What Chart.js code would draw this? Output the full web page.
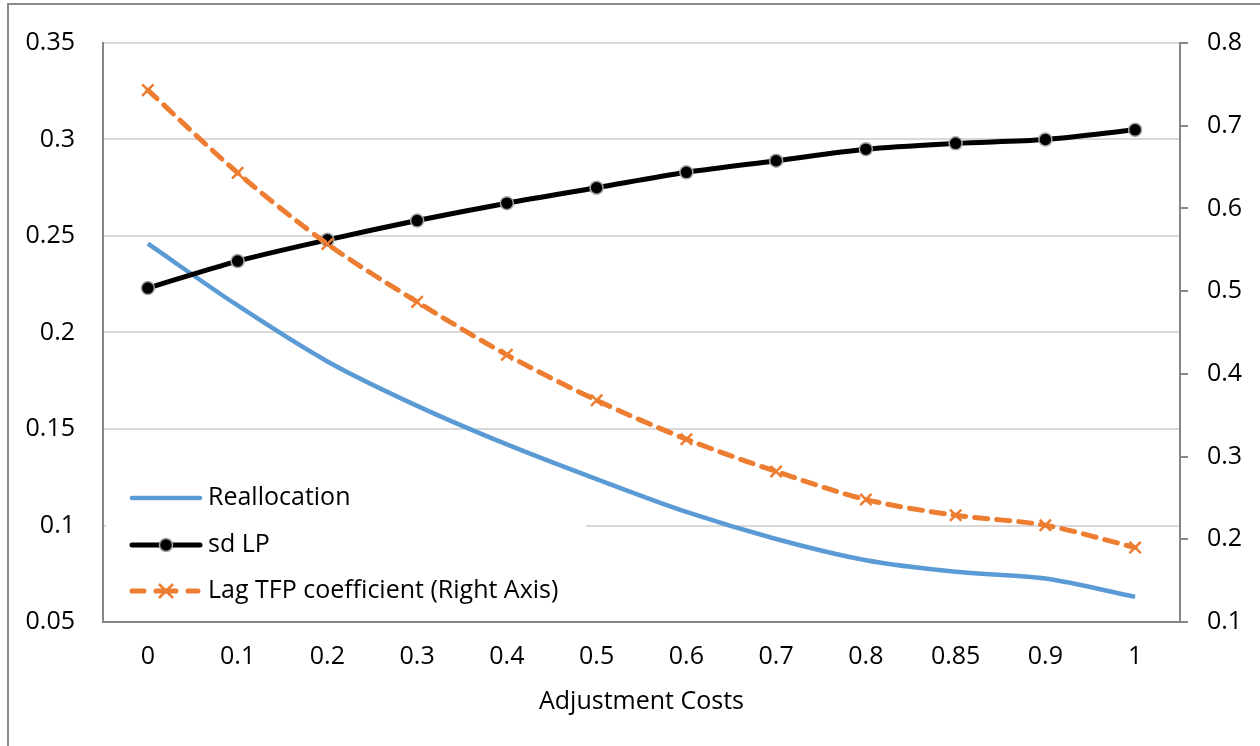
<!DOCTYPE html>
<html>
<head>
<meta charset="utf-8">
<script src="https://cdn.jsdelivr.net/npm/chart.js@4.4.1/dist/chart.umd.min.js"></script>
<style>
  html, body { margin: 0; padding: 0; background: #fff; }
  #wrap { width: 1260px; height: 746px; position: relative; }
</style>
</head>
<body>
<div id="wrap"><canvas id="grafico" width="1260" height="746"></canvas></div>
<script>
const custos = ["0", "0.1", "0.2", "0.3", "0.4", "0.5", "0.6", "0.7", "0.8", "0.85", "0.9", "1"];
const realocacao = [0.246, 0.214, 0.185, 0.162, 0.142, 0.124, 0.107, 0.093, 0.082, 0.076, 0.0725, 0.063];
const sdLP = [0.223, 0.237, 0.248, 0.258, 0.267, 0.275, 0.283, 0.289, 0.295, 0.298, 0.300, 0.305];
const lagTFP = [0.743, 0.643, 0.557, 0.487, 0.423, 0.368, 0.321, 0.282, 0.248, 0.229, 0.217, 0.190];

const fonte = "'Open Sans', Lato, sans-serif";
const tamanho = 25;
const azul = "#5b9bd5";
const laranja = "#ed7d31";
const cinza = "#868686";

// tira zeros do fim (0.30 -> 0.3)
function formatar(v) {
  return String(parseFloat(v.toFixed(2)));
}

// moldura e legenda desenhadas a mao
const pluginMoldura = {
  id: "moldura",
  beforeDraw(chart) {
    const ctx = chart.ctx;
    ctx.save();
    ctx.fillStyle = "#fff";
    ctx.fillRect(0, 0, chart.width, chart.height);
    ctx.strokeStyle = "#8c8c8c";
    ctx.lineWidth = 2;
    ctx.beginPath();
    ctx.moveTo(8, chart.height);
    ctx.lineTo(8, 4);
    ctx.lineTo(chart.width, 4);
    ctx.stroke();
    ctx.restore();
  },
  beforeDatasetsDraw(chart) {
    const ctx = chart.ctx;
    ctx.save();
    ctx.fillStyle = "#fff";
    ctx.fillRect(106, 478, 480, 136);

    const linhas = [
      { texto: "Reallocation", y: 498 },
      { texto: "sd LP", y: 545 },
      { texto: "Lag TFP coefficient (Right Axis)", y: 591 },
    ];
    ctx.lineCap = "round";

    // Reallocation
    ctx.strokeStyle = azul;
    ctx.lineWidth = 4.5;
    ctx.beginPath();
    ctx.moveTo(132, linhas[0].y);
    ctx.lineTo(200, linhas[0].y);
    ctx.stroke();

    // sd LP
    ctx.strokeStyle = "#000";
    ctx.lineWidth = 5;
    ctx.beginPath();
    ctx.moveTo(132, linhas[1].y);
    ctx.lineTo(200, linhas[1].y);
    ctx.stroke();
    ctx.beginPath();
    ctx.arc(166, linhas[1].y, 6.5, 0, Math.PI * 2);
    ctx.fillStyle = "#000";
    ctx.fill();
    ctx.strokeStyle = "#a6a6a6";
    ctx.lineWidth = 1.5;
    ctx.stroke();

    // Lag TFP
    ctx.strokeStyle = laranja;
    ctx.lineWidth = 5;
    ctx.beginPath();
    ctx.moveTo(132, linhas[2].y);
    ctx.lineTo(144, linhas[2].y);
    ctx.moveTo(156, linhas[2].y);
    ctx.lineTo(176, linhas[2].y);
    ctx.moveTo(188, linhas[2].y);
    ctx.lineTo(198, linhas[2].y);
    ctx.stroke();
    ctx.lineWidth = 2.5;
    ctx.lineCap = "butt";
    ctx.beginPath();
    ctx.moveTo(159, linhas[2].y - 7);
    ctx.lineTo(173, linhas[2].y + 7);
    ctx.moveTo(173, linhas[2].y - 7);
    ctx.lineTo(159, linhas[2].y + 7);
    ctx.stroke();

    ctx.fillStyle = "#000";
    ctx.font = tamanho + "px " + fonte;
    ctx.textBaseline = "middle";
    ctx.textAlign = "left";
    linhas.forEach((l) => ctx.fillText(l.texto, 208, l.y));
    ctx.restore();
  },
};

new Chart(document.getElementById("grafico"), {
  type: "line",
  data: {
    labels: custos,
    datasets: [
      {
        label: "Reallocation",
        data: realocacao,
        yAxisID: "y",
        borderColor: azul,
        borderWidth: 4.5,
        pointRadius: 0,
        tension: 0.3,
        order: 2,
      },
      {
        label: "sd LP",
        data: sdLP,
        yAxisID: "y",
        borderColor: "#000",
        borderWidth: 5,
        pointRadius: 6.5,
        pointBackgroundColor: "#000",
        pointBorderColor: "#a6a6a6",
        pointBorderWidth: 1.5,
        tension: 0.3,
        order: 1,
      },
      {
        label: "Lag TFP coefficient (Right Axis)",
        data: lagTFP,
        yAxisID: "y1",
        borderColor: laranja,
        borderWidth: 5,
        borderDash: [13, 9],
        borderCapStyle: "round",
        pointStyle: "crossRot",
        pointRadius: 8,
        pointBorderColor: laranja,
        pointBorderWidth: 2.5,
        tension: 0.3,
        order: 0,
      },
    ],
  },
  options: {
    responsive: false,
    animation: false,
    layout: { padding: { top: 37, left: 0, right: 0, bottom: 0 } },
    plugins: {
      legend: { display: false },
      tooltip: { enabled: false },
    },
    scales: {
      x: {
        offset: true,
        grid: { display: false, drawTicks: false },
        border: { display: true, color: cinza, width: 2 },
        ticks: {
          padding: 20,
          color: "#000",
          font: { family: fonte, size: tamanho },
          maxRotation: 0,
        },
        title: {
          display: true,
          text: "Adjustment Costs",
          color: "#000",
          font: { family: fonte, size: tamanho },
          padding: { top: 8, bottom: 29 },
        },
        afterFit(scale) {
          scale.height = 124;
        },
      },
      y: {
        position: "left",
        min: 0.05,
        max: 0.35,
        ticks: {
          stepSize: 0.05,
          padding: 28,
          color: "#000",
          font: { family: fonte, size: tamanho },
          callback: (v) => formatar(v),
        },
        grid: { color: "#d9d9d9", lineWidth: 2, drawTicks: false },
        border: { display: true, color: cinza, width: 2 },
        afterFit(scale) {
          scale.width = 103;
        },
      },
      y1: {
        position: "right",
        min: 0.1,
        max: 0.8,
        ticks: {
          stepSize: 0.1,
          padding: 19,
          color: "#000",
          font: { family: fonte, size: tamanho },
          callback: (v) => formatar(v),
        },
        grid: { drawOnChartArea: false, color: cinza, lineWidth: 2, tickLength: 8 },
        border: { display: true, color: cinza, width: 2 },
        afterFit(scale) {
          scale.width = 80;
        },
      },
    },
  },
  plugins: [pluginMoldura],
});
</script>
</body>
</html>
